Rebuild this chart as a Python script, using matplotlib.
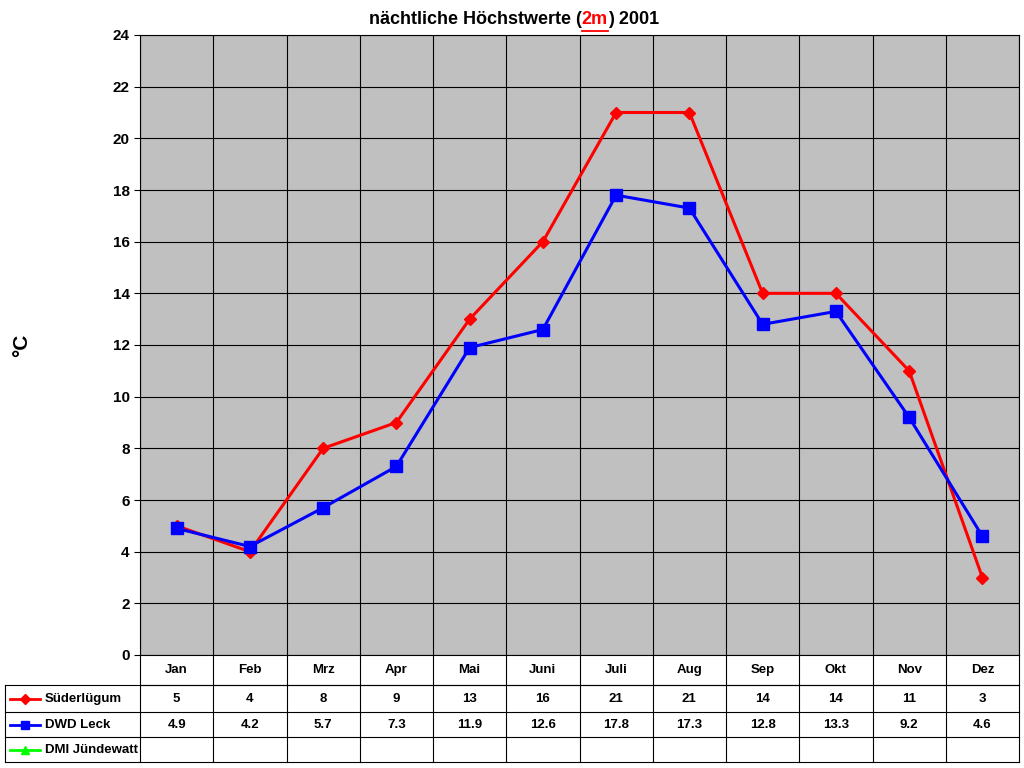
import matplotlib
matplotlib.use("Agg")
import matplotlib.pyplot as plt
from matplotlib.lines import Line2D

plt.rcParams['font.family'] = ['Liberation Sans', 'DejaVu Sans']
plt.rcParams['font.weight'] = 'bold'

months = ["Jan","Feb","Mrz","Apr","Mai","Juni","Juli","Aug","Sep","Okt","Nov","Dez"]
sued = [5,4,8,9,13,16,21,21,14,14,11,3]
leck = [4.9,4.2,5.7,7.3,11.9,12.6,17.8,17.3,12.8,13.3,9.2,4.6]
sued_lbl = ["5","4","8","9","13","16","21","21","14","14","11","3"]
leck_lbl = ["4.9","4.2","5.7","7.3","11.9","12.6","17.8","17.3","12.8","13.3","9.2","4.6"]
yticks = list(range(0, 25, 2))

W, H = 1024, 768
fig = plt.figure(figsize=(W/100, H/100), dpi=100)
L, R, T, B = 140, 1019, 35, 655
ax = fig.add_axes([L/W, 1-B/H, (R-L)/W, (B-T)/H])
ax.set_facecolor('#c0c0c0')
ax.set_xlim(0, 12); ax.set_ylim(0, 24)
ax.set_yticks(yticks)
ax.set_yticklabels([str(v) for v in yticks], fontsize=11, fontweight='bold')
ax.set_xticks(range(13)); ax.set_xticklabels([])
ax.tick_params(axis='x', length=0)
ax.tick_params(axis='y', length=4, direction='out')
ax.grid(True, color='black', linewidth=0.8)
for s in ax.spines.values():
    s.set_color('black'); s.set_linewidth(0.8)
xs = [i+0.5 for i in range(12)]
ax.plot(xs, sued, color='#ff0000', lw=2.2, marker='D', ms=6, zorder=3)
ax.plot(xs, leck, color='#0000ff', lw=2.2, marker='s', ms=8, zorder=4)

def fx(px): return px/W
def fy(py): return 1-py/H

fig.text(fx(22), fy(345), '°C', rotation=90, ha='center', va='center', fontsize=15, fontweight='bold')

def hline(x0, x1, y, c='black', lw=0.8):
    fig.add_artist(Line2D([fx(x0), fx(x1)], [fy(y), fy(y)], color=c, lw=lw, transform=fig.transFigure))
def vline(x, y0, y1):
    fig.add_artist(Line2D([fx(x), fx(x)], [fy(y0), fy(y1)], color='black', lw=0.8, transform=fig.transFigure))

rows = [655, 685, 712, 737, 762]
hline(L, R, 685)
for y in rows[1:]:
    hline(5, R, y)
vline(5, 685, 762)
cw = (R-L)/12
for i in range(13):
    vline(L+i*cw, 655, 762)
for i in range(12):
    cx = L + (i+0.5)*cw
    fig.text(fx(cx), fy(670), months[i], ha='center', va='center', fontsize=9.5, fontweight='bold')
    fig.text(fx(cx), fy(699), sued_lbl[i], ha='center', va='center', fontsize=9.5, fontweight='bold')
    fig.text(fx(cx), fy(725), leck_lbl[i], ha='center', va='center', fontsize=9.5, fontweight='bold')
legend = [("Süderlügum", '#ff0000', 'D', 5, 699), ("DWD Leck", '#0000ff', 's', 6, 725), ("DMI Jündewatt", '#00ff00', '^', 6, 750)]
for name, c, m, ms, y in legend:
    fig.add_artist(Line2D([fx(10), fx(40)], [fy(y), fy(y)], color=c, lw=2, transform=fig.transFigure))
    fig.add_artist(Line2D([fx(25)], [fy(y)], color=c, marker=m, ms=ms, transform=fig.transFigure))
    fig.text(fx(45), fy(y), name, ha='left', va='center', fontsize=9.5, fontweight='bold')

parts = [("nächtliche Höchstwerte (", 'black', False), ("2m", '#ff0000', True), (") 2001", 'black', False)]
fig.canvas.draw()
r = fig.canvas.get_renderer()
texts = []
for s, c, u in parts:
    t = fig.text(0, fy(20), s, ha='left', va='center', fontsize=13, fontweight='bold', color=c)
    texts.append(t)
widths = [t.get_window_extent(r).width for t in texts]
x = 514 - sum(widths)/2
for t, w, (s, c, u) in zip(texts, widths, parts):
    t.set_x(fx(x))
    if u:
        hline(x, x+w, 30.5, c=c, lw=1.3)
    x += w

fig.savefig('out.png', dpi=100, facecolor='white')
